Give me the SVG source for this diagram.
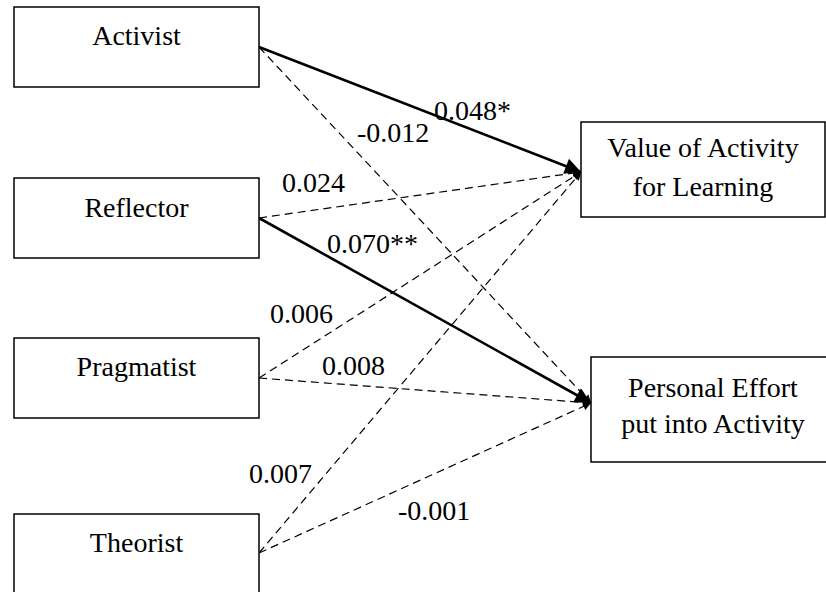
<svg xmlns="http://www.w3.org/2000/svg" width="826" height="592" viewBox="0 0 826 592" font-family="'Liberation Serif', 'Times New Roman', 'DejaVu Serif', serif">
<style>
.box{fill:#fff;stroke:#000;stroke-width:1.5}
text{font-family:'Liberation Serif','Times New Roman','DejaVu Serif',serif;font-size:28px;fill:#000}
.c{text-anchor:middle}
.solid{stroke:#000;stroke-width:2.6;fill:none}
.dash{stroke:#000;stroke-width:1.2;fill:none;stroke-dasharray:8 5}
</style>
<defs>
<marker id="ah" viewBox="0 0 10 10" refX="10" refY="5" markerWidth="18" markerHeight="16" markerUnits="userSpaceOnUse" orient="auto">
<path d="M0,0 L10,5 L0,10 z" fill="#000"/>
</marker>
<marker id="ahs" viewBox="0 0 10 10" refX="10" refY="5" markerWidth="10" markerHeight="8" markerUnits="userSpaceOnUse" orient="auto">
<path d="M0,0 L10,5 L0,10 z" fill="#000"/>
</marker>
</defs>
<rect width="826" height="592" fill="#fff"/>
<g id="connectors">
<line class="solid" x1="259" y1="47" x2="581" y2="172" marker-end="url(#ah)"/>
<line class="dash" x1="259" y1="47" x2="591" y2="403" marker-end="url(#ahs)"/>
<line class="dash" x1="259" y1="218" x2="581" y2="172" marker-end="url(#ahs)"/>
<line class="solid" x1="259" y1="218" x2="591" y2="403" marker-end="url(#ah)"/>
<line class="dash" x1="259" y1="378" x2="581" y2="172" marker-end="url(#ahs)"/>
<line class="dash" x1="259" y1="378" x2="591" y2="403" marker-end="url(#ahs)"/>
<line class="dash" x1="259" y1="553" x2="581" y2="172" marker-end="url(#ahs)"/>
<line class="dash" x1="259" y1="553" x2="591" y2="403" marker-end="url(#ahs)"/>
<text x="434" y="120">0.048*</text>
<text x="357" y="142">-0.012</text>
<text x="282" y="192">0.024</text>
<text x="327" y="253">0.070**</text>
<text x="270" y="323">0.006</text>
<text x="322" y="375">0.008</text>
<text x="249" y="483">0.007</text>
<text x="398" y="520">-0.001</text>
</g>
<g id="activist">
<rect class="box" x="14" y="7" width="245" height="80"/>
<text class="c" x="136.5" y="45">Activist</text>
</g>
<g id="reflector">
<rect class="box" x="14" y="178" width="245" height="80"/>
<text class="c" x="136.5" y="217">Reflector</text>
</g>
<g id="pragmatist">
<rect class="box" x="14" y="338" width="245" height="80"/>
<text class="c" x="136.5" y="376">Pragmatist</text>
</g>
<g id="theorist">
<rect class="box" x="14" y="514" width="245" height="80"/>
<text class="c" x="136.5" y="552">Theorist</text>
</g>
<g id="value">
<rect class="box" x="581" y="122" width="244" height="95"/>
<text class="c" x="703" y="157">Value of Activity</text>
<text class="c" x="703" y="196">for Learning</text>
</g>
<g id="effort">
<rect class="box" x="591" y="357" width="244" height="105"/>
<text class="c" x="713" y="397">Personal Effort</text>
<text class="c" x="713" y="433">put into Activity</text>
</g>
</svg>
